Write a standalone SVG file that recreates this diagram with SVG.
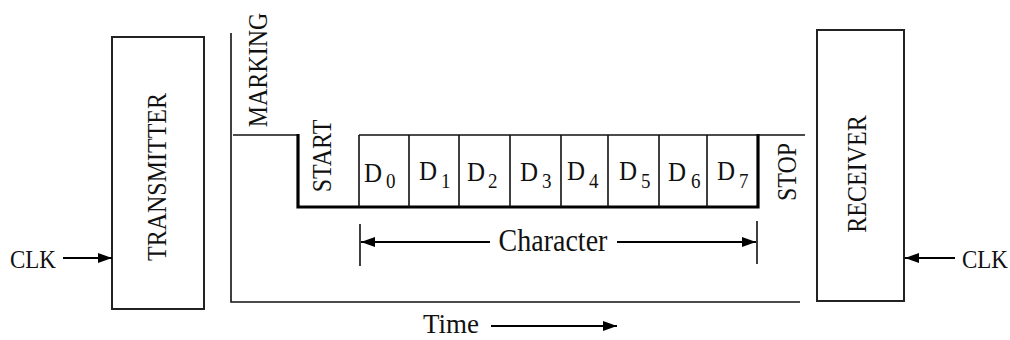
<svg xmlns="http://www.w3.org/2000/svg" width="1010" height="340" viewBox="0 0 1010 340">
<style>
text{font-family:"Liberation Serif","Times New Roman",serif;fill:#111}
.lbl{font-size:24px}
.clk{font-size:23px}
.big{font-size:28px}
.t{font-size:27px}
.d{font-size:25px}
.sub{font-size:19px}
.box{fill:#fff;stroke:#222;stroke-width:2}
.thin{stroke:#111;stroke-width:1.6;fill:none}
.thick{stroke:#000;stroke-width:3.2;fill:none}
.arr{stroke:#000;stroke-width:1.8;fill:none;marker-end:url(#ah)}
</style>
<defs>
<marker id="ah" viewBox="0 0 14 10" refX="14" refY="5" markerWidth="14" markerHeight="10" markerUnits="userSpaceOnUse" orient="auto">
<path d="M0,0 L14,5 L0,10 Z" fill="#000"/>
</marker>
</defs>
<g id="transmitter">
<rect class="box" x="112" y="37" width="92" height="272"/>
<text class="lbl" text-anchor="middle" transform="translate(166,177) rotate(-90) scale(1,1.12)">TRANSMITTER</text>
</g>
<g id="receiver">
<rect class="box" x="817" y="30" width="87" height="271"/>
<text class="lbl" text-anchor="middle" transform="translate(866,174) rotate(-90) scale(1,1.12)">RECEIVER</text>
</g>
<g id="clk-left"><text class="clk" transform="translate(10,268) scale(1,1.1)">CLK</text></g>
<g id="clk-right"><text class="clk" transform="translate(962,268) scale(1,1.1)">CLK</text></g>
<g id="timing">
<path class="thin" d="M231,33 V302 H800"/>
<path class="thin" d="M233,135 H298"/>
<path class="thick" d="M298,134 V207 H758 V134"/>
<path class="thin" d="M359,135 H805 M359,135 V207 M409,135 V207 M459,135 V207 M510,135 V207 M561,135 V207 M608,135 V207 M659,135 V207 M707,135 V207"/>
<text class="lbl" text-anchor="middle" transform="translate(267,70) rotate(-90) scale(1,1.12)">MARKING</text>
<text class="lbl" text-anchor="middle" transform="translate(331,156) rotate(-90) scale(1,1.12)">START</text>
<text class="lbl" text-anchor="middle" transform="translate(796,172) rotate(-90) scale(1,1.12)">STOP</text>
<g id="bits">
<text class="d" transform="translate(364,182) scale(1,1.12)">D</text><text class="sub" transform="translate(386,188) scale(1,1.12)">0</text>
<text class="d" transform="translate(419,180) scale(1,1.12)">D</text><text class="sub" transform="translate(441,188) scale(1,1.12)">1</text>
<text class="d" transform="translate(467,181) scale(1,1.12)">D</text><text class="sub" transform="translate(488,188) scale(1,1.12)">2</text>
<text class="d" transform="translate(520,181) scale(1,1.12)">D</text><text class="sub" transform="translate(542,188) scale(1,1.12)">3</text>
<text class="d" transform="translate(567,180) scale(1,1.12)">D</text><text class="sub" transform="translate(589,188) scale(1,1.12)">4</text>
<text class="d" transform="translate(619,180) scale(1,1.12)">D</text><text class="sub" transform="translate(641,188) scale(1,1.12)">5</text>
<text class="d" transform="translate(668,181) scale(1,1.12)">D</text><text class="sub" transform="translate(691,188) scale(1,1.12)">6</text>
<text class="d" transform="translate(717,180) scale(1,1.12)">D</text><text class="sub" transform="translate(739,188) scale(1,1.12)">7</text>
</g>
</g>
<g id="character">
<path class="thin" d="M360,224 V266 M757,221 V264"/>
<text class="big" text-anchor="middle" transform="translate(553,251) scale(1,1.12)">Character</text>
</g>
<g id="time"><text class="t" x="423" y="333">Time</text></g>
<g id="connectors">
<line class="arr" x1="63" y1="258" x2="112" y2="258"/>
<line class="arr" x1="955" y1="258" x2="905" y2="258"/>
<line class="arr" x1="490" y1="242" x2="361" y2="242"/>
<line class="arr" x1="617" y1="242" x2="756" y2="242"/>
<line class="arr" x1="491" y1="326" x2="617" y2="326"/>
</g>
</svg>
